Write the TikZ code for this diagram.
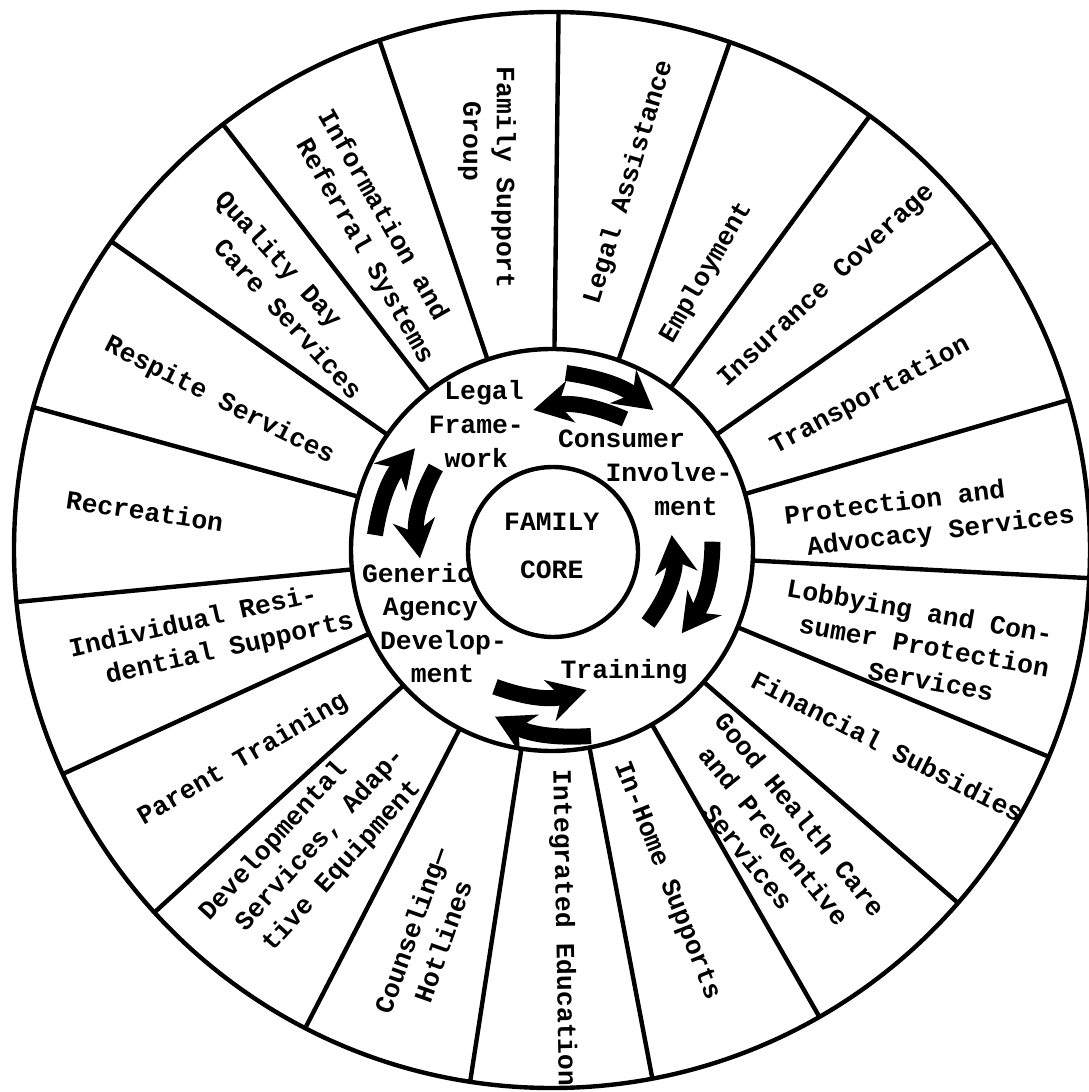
\documentclass[tikz,border=0pt]{standalone}
\usepackage{fontspec}
\newfontfamily\tw{Liberation Mono}
\usetikzlibrary{arrows.meta}
\begin{document}
\begin{tikzpicture}[x=0.5pt,y=0.5pt,
  wheel/.style={line width=2.2pt},
  lbl/.style={font=\tw\bfseries\fontsize{13.2pt}{16.8pt}\selectfont, align=center, inner sep=0pt},
  corelbl/.style={font=\tw\bfseries\fontsize{13.2pt}{24pt}\selectfont, align=center, inner sep=0pt},
  flow/.style={line width=8pt, -{Stealth[length=19pt,width=21pt,inset=6pt]}}]
\useasboundingbox (-552,-542) rectangle (536,550);
\coordinate (O) at (0,0);
% circles
\draw[wheel] (O) circle[radius=269pt];
\draw[wheel] (O) circle[radius=100.5pt];
% spokes
\foreach \a in {108.7,89.3,70.7,53.8,35.05,16.2,-3.0,-22.6,-41.0,-60.2,-79.25,-98.75,-117.3,-137.65,-155.4,-174.45,164.6,145,127.7}
  \draw[wheel] (\a:201) -- (\a:538);
% outer labels
\node[lbl, rotate=-90] (famsup) at (-65,390.4) {\hspace*{18.2pt}Family Support\\Group\hspace*{18.2pt}};
\node[lbl, rotate=73.1] (legalas) at (77,367.8) {Legal Assistance};
\node[lbl, rotate=59.8] (employ) at (154.2,277.6) {Employment};
\node[lbl, rotate=43] (insur) at (274.8,263.7) {Insurance Coverage};
\node[lbl, rotate=28.2] (transp) at (318.2,154.4) {Transportation};
\node[lbl, rotate=7] (protect) at (365.9,31.65) {Protection and\hspace*{21.1pt}\\\hspace*{21.1pt}Advocacy Services};
\node[lbl, rotate=-10] (lobby) at (372.3,-95.5) {Lobbying and Con-\hspace*{10.3pt}\\sumer Protection\hspace*{2.4pt}\\\hspace*{12.6pt}Services};
\node[lbl, rotate=-26.9] (finance) at (335.6,-196.4) {Financial Subsidies};
\node[lbl, rotate=-51] (health) at (222.2,-285.5) {Good Health Care\\and Preventive\\Services};
\node[lbl, rotate=-68.6] (inhome) at (114.4,-330.9) {In-Home Supports};
\node[lbl, rotate=-89] (integr) at (11,-378) {Integrated Education};
\node[lbl, rotate=70.5] (counsel) at (-125.25,-385.9) {Counseling—\\Hotlines};
\node[lbl, rotate=47.7] (develop) at (-240,-298.9) {Developmental\hspace*{20.1pt}\\\hspace*{12.6pt}Services, Adap-\\\hspace*{7.3pt}tive Equipment};
\node[lbl, rotate=30.2] (parent) at (-309.1,-209.4) {Parent Training};
\node[lbl, rotate=12.7] (indiv) at (-340.3,-85.85) {Individual Resi-\hspace*{14.8pt}\\\hspace*{14.8pt}dential Supports};
\node[lbl, rotate=-8.3] (recre) at (-407.1,39.1) {Recreation};
\node[lbl, rotate=-26.7] (respite) at (-332.5,149.2) {Respite Services};
\node[lbl, rotate=-47.7] (quality) at (-267.9,261.55) {Quality Day\hspace*{25.3pt}\\\hspace*{25.3pt}Care Services};
\node[lbl, rotate=-60.35] (inform) at (-178.6,316.65) {Information and\hspace*{11.4pt}\\\hspace*{11.4pt}Referral Systems};
% ring labels
\node[lbl] (legalfw) at (-75.7,126) {\hspace*{7.7pt}Legal\\Frame-\\work};
\node[lbl] (consumer) at (106.8,77.3) {Consumer\hspace*{37.3pt}\\\hspace*{10.2pt}Involve-\\\hspace*{27.2pt}ment};
\node[lbl] (generic) at (-121.5,-73) {Generic\hspace*{13pt}\\Agency\hspace*{12pt}\\\hspace*{13pt}Develop-\\\hspace*{12pt}ment};
\node[lbl] (training) at (72,-122) {Training};
% core
\draw[wheel] (1,-2) circle[radius=42.5pt];
\node[corelbl] (core) at (-0.3,4.15) {FAMILY\\CORE};
% arrows
\coordinate (a1s) at (14,177);     \coordinate (a1e) at (101.3,140);
\coordinate (a2s) at (73,131);     \coordinate (a2e) at (-18.7,140);
\coordinate (a3s) at (96,-73);     \coordinate (a3e) at (119.7,15);
\coordinate (a4s) at (160.5,8.3);  \coordinate (a4e) at (129.7,-83.3);
\coordinate (a5s) at (-57,-136.7); \coordinate (a5e) at (34.7,-140);
\coordinate (a6s) at (39,-186);    \coordinate (a6e) at (-57,-166.7);
\coordinate (a7s) at (-177,15);    \coordinate (a7e) at (-137,101.7);
\coordinate (a8s) at (-116.2,82.5);\coordinate (a8e) at (-132,-8.3);
\draw[flow] (a1s) to[bend left=15] (a1e);
\draw[flow] (a2s) to[bend right=18] (a2e);
\draw[flow] (a3s) to[bend right=22] (a3e);
\draw[flow] (a4s) to[bend left=18] (a4e);
\draw[flow] (a5s) to[bend right=18] (a5e);
\draw[flow] (a6s) to[bend left=15] (a6e);
\draw[flow] (a7s) to[bend left=16] (a7e);
\draw[flow] (a8s) to[bend right=19] (a8e);
\end{tikzpicture}
\end{document}
